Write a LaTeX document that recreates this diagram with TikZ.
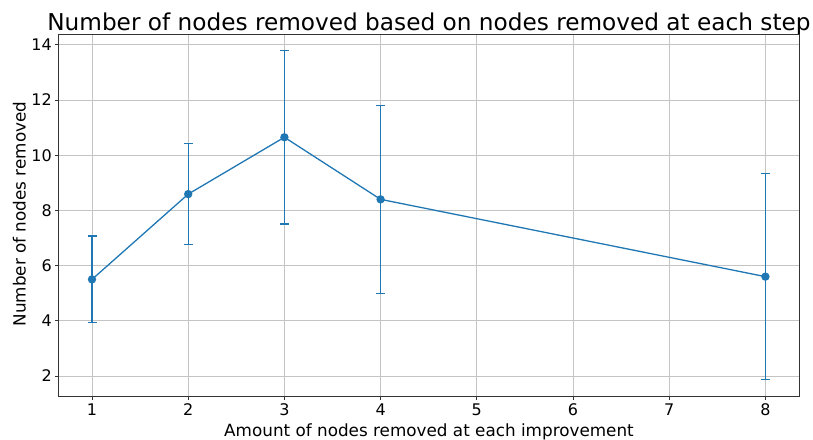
\documentclass[tikz,border=0pt]{standalone}
\usepackage{fontspec}
\setmainfont{DejaVu Sans}

\definecolor{plotblue}{HTML}{1F77B4}
\definecolor{gridgray}{HTML}{C4C4C4}

\tikzset{
  gridline/.style={draw=gridgray, line width=1pt},
  axisframe/.style={draw=black!80, line width=1pt},
  dataline/.style={draw=plotblue, line width=1.3pt},
  errbar/.style={draw=plotblue, line width=1.4pt},
  ticklabel/.style={font=\fontsize{16}{19}\selectfont, inner sep=0pt},
  axislabel/.style={font=\fontsize{16.8}{20}\selectfont, inner sep=0pt}
}

\begin{document}
\begin{tikzpicture}[x=1pt, y=-1pt]
    % Canvas of the figure
    \useasboundingbox (0,0) rectangle (813,439);

    % Title
    \node[font=\fontsize{23.2}{27}\selectfont, anchor=base, inner sep=0pt] (title) at (429,30) {Number of nodes removed based on nodes removed at each step};

    % Axis labels
    \node[axislabel, anchor=base] (xlabel) at (429,436) {Amount of nodes removed at each improvement};
    \node[axislabel, anchor=base, rotate=90] (ylabel) at (25.5,214) {Number of nodes removed};

    % Data coordinates: x in steps, y in nodes removed
    \begin{scope}[shift={(-4.2,431.2)}, x=96.2pt, y=27.6pt]
        % Corners of the axes
        \coordinate (ll) at (0.647,1.24);
        \coordinate (ur) at (8.35,14.36);

        % Grid
        \foreach \x in {1,...,8}
            \draw[gridline] (\x,1.24) -- (\x,14.36);
        \foreach \y in {2,4,...,14}
            \draw[gridline] (0.647,\y) -- (8.35,\y);

        % Axes box
        \draw[axisframe] (ll) rectangle (ur);

        % Ticks and tick labels on x
        \foreach \x in {1,...,8} {
            \draw[axisframe] (\x,1.24) -- ++(0,-3.5pt);
            \node[ticklabel, anchor=base] (xt\x) at ([yshift=-18.5pt]\x,1.24) {\x};
        }

        % Ticks and tick labels on y
        \foreach \y in {2,4,...,14} {
            \draw[axisframe] (0.647,\y) -- ++(-3.5pt,0);
            \node[ticklabel, anchor=east] (yt\y) at ([xshift=-6pt]0.647,\y) {\y};
        }

        % Mean line
        \draw[dataline] (1,5.5) -- (2,8.59) -- (3,10.65) -- (4,8.4) -- (8,5.6);

        % Error bars with caps, and markers
        \foreach \x/\m/\e in {1/5.5/1.57, 2/8.59/1.83, 3/10.65/3.14, 4/8.4/3.4, 8/5.6/3.73} {
            \draw[errbar] (\x,\m-\e) -- (\x,\m+\e);
            \draw[errbar] (\x,\m+\e) ++(-4.5pt,0) -- ++(9pt,0);
            \draw[errbar] (\x,\m-\e) ++(-4.5pt,0) -- ++(9pt,0);
            \fill[plotblue] (\x,\m) circle (4.2pt);
        }
    \end{scope}
\end{tikzpicture}
\end{document}
